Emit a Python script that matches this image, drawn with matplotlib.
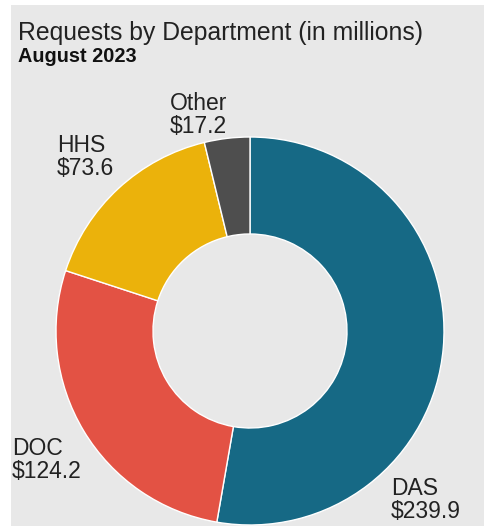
import matplotlib
matplotlib.use("Agg")
import matplotlib.pyplot as plt
from matplotlib.patches import Rectangle

departments = ["DAS", "DOC", "HHS", "Other"]
requests = [239.9, 124.2, 73.6, 17.2]
colors = ["#166985", "#e35244", "#ebb20b", "#4e4e4e"]

# label anchor (left x, baseline y of first line) in pixels from top-left
label_pos = {"DAS": (391, 495), "DOC": (12, 455), "HHS": (57, 152), "Other": (170, 110)}

W, H = 485, 526
plt.rcParams["font.family"] = ["Liberation Sans", "DejaVu Sans"]

fig = plt.figure(figsize=(W / 100, H / 100), dpi=100)
fig.patch.set_facecolor("white")

ax = fig.add_axes([0, 0, 1, 1])
ax.patch.set_alpha(0)
ax.add_patch(Rectangle((11, -5), W, H - 5 + 5, facecolor="#e8e8e8", edgecolor="none", zorder=0))
ax.pie(requests, colors=colors, startangle=90, counterclock=False,
       radius=194, center=(250, H - 331),
       wedgeprops=dict(width=97, edgecolor="white", linewidth=1, zorder=2))
ax.set_xlim(0, W)
ax.set_ylim(0, H)
ax.set_aspect("auto")
ax.axis("off")

for name, val in zip(departments, requests):
    x, y = label_pos[name]
    ax.text(x, H - y, name, fontsize=16.5, color="#222222", va="baseline", ha="left", zorder=3)
    ax.text(x, H - y - 23, "$%.1f" % val, fontsize=16.5, color="#222222", va="baseline", ha="left", zorder=3)

ax.text(18, H - 40, "Requests by Department (in millions)", fontsize=17.8,
        color="#222222", va="baseline", ha="left", zorder=3)
ax.text(18, H - 62, "August 2023", fontsize=14.3, fontweight="bold",
        color="#111111", va="baseline", ha="left", zorder=3)

fig.savefig("out.png", dpi=100)
